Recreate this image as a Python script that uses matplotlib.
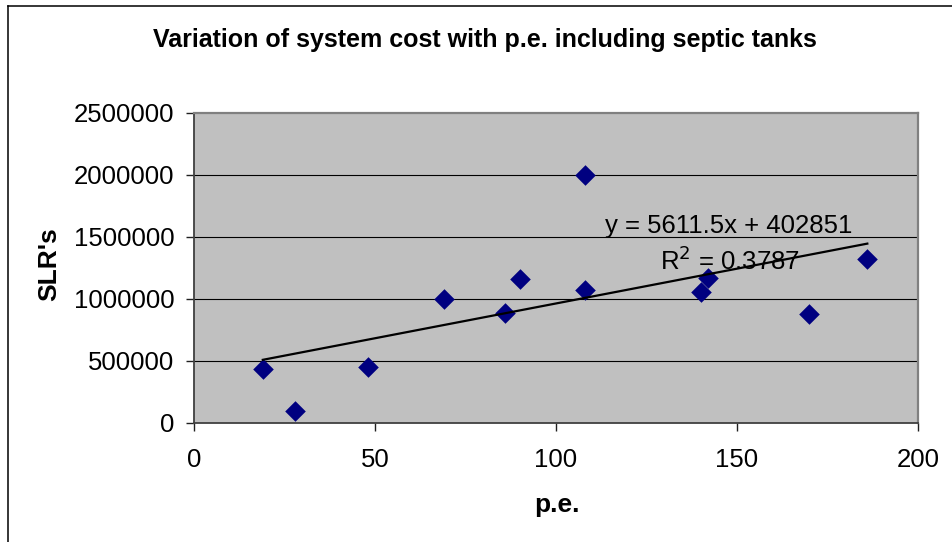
import matplotlib
matplotlib.use("Agg")
import matplotlib.pyplot as plt
from matplotlib.lines import Line2D
import numpy as np

plt.rcParams['font.family'] = ['Liberation Sans', 'DejaVu Sans']

# Population equivalent vs. system cost
pe = [19, 28, 48, 69, 86, 90, 108, 108, 140, 142, 170, 186]
cost = [432000, 97000, 448000, 1000000, 889000, 1162000, 2000000,
        1070000, 1057000, 1172000, 879000, 1326000]

# Linear trendline coefficients
slope = 5611.5
intercept = 402851
r_squared = 0.3787

x_ticks = [0, 50, 100, 150, 200]
y_ticks = [0, 500000, 1000000, 1500000, 2000000, 2500000]

W, H = 952, 542
fig = plt.figure(figsize=(W / 100, H / 100), dpi=100)
fig.patch.set_facecolor('white')

# chart frame (left and top edges)
fig.add_artist(Line2D([7.5 / W, 7.5 / W], [0, 1 - 5.5 / H],
                      transform=fig.transFigure, color='black', lw=1.1))
fig.add_artist(Line2D([7.5 / W, 1], [1 - 5.5 / H, 1 - 5.5 / H],
                      transform=fig.transFigure, color='black', lw=1.1))

ax = fig.add_axes([194 / W, 1 - 423 / H, 724 / W, 310 / H])
ax.set_facecolor('#C0C0C0')
ax.set_xlim(0, 200)
ax.set_ylim(0, 2500000)
ax.set_xticks(x_ticks)
ax.set_yticks(y_ticks)
ax.set_xticklabels([str(v) for v in x_ticks])
ax.set_yticklabels([str(v) for v in y_ticks])

for v in y_ticks[1:-1]:
    ax.axhline(v, color='black', lw=0.8, zorder=1)

for s in ['top', 'right']:
    ax.spines[s].set_color('#808080')
    ax.spines[s].set_linewidth(1.6)
for s in ['left', 'bottom']:
    ax.spines[s].set_color('#404040')
    ax.spines[s].set_linewidth(1.3)

ax.tick_params(axis='both', direction='out', length=6, width=1, color='#202020',
               labelsize=18.5, labelcolor='black')
ax.tick_params(axis='y', pad=8)
ax.tick_params(axis='x', pad=12)

ax.scatter(pe, cost, marker='D', s=110, color='#000080', zorder=3, linewidths=0)

xs = np.array([min(pe), max(pe)])
ax.plot(xs, slope * xs + intercept, color='black', lw=1.6, zorder=4)

ax.text(729, H - 233, f"y = {slope}x + {intercept}", transform=None,
        fontsize=18.5, ha='center', va='baseline', zorder=5)
ax.text(730, H - 270, f"R$^2$ = {r_squared}", transform=None,
        fontsize=18.5, ha='center', va='baseline', zorder=5)

fig.text(485 / W, 1 - 40 / H, "Variation of system cost with p.e. including septic tanks",
         fontsize=18, fontweight='bold', ha='center', va='center')
fig.text(557 / W, 1 - 505 / H, "p.e.", fontsize=19, fontweight='bold',
         ha='center', va='center')
fig.text(49 / W, 1 - 264 / H, "SLR's", fontsize=19, fontweight='bold',
         ha='center', va='center', rotation=90)

fig.savefig('out.png', dpi=100)
